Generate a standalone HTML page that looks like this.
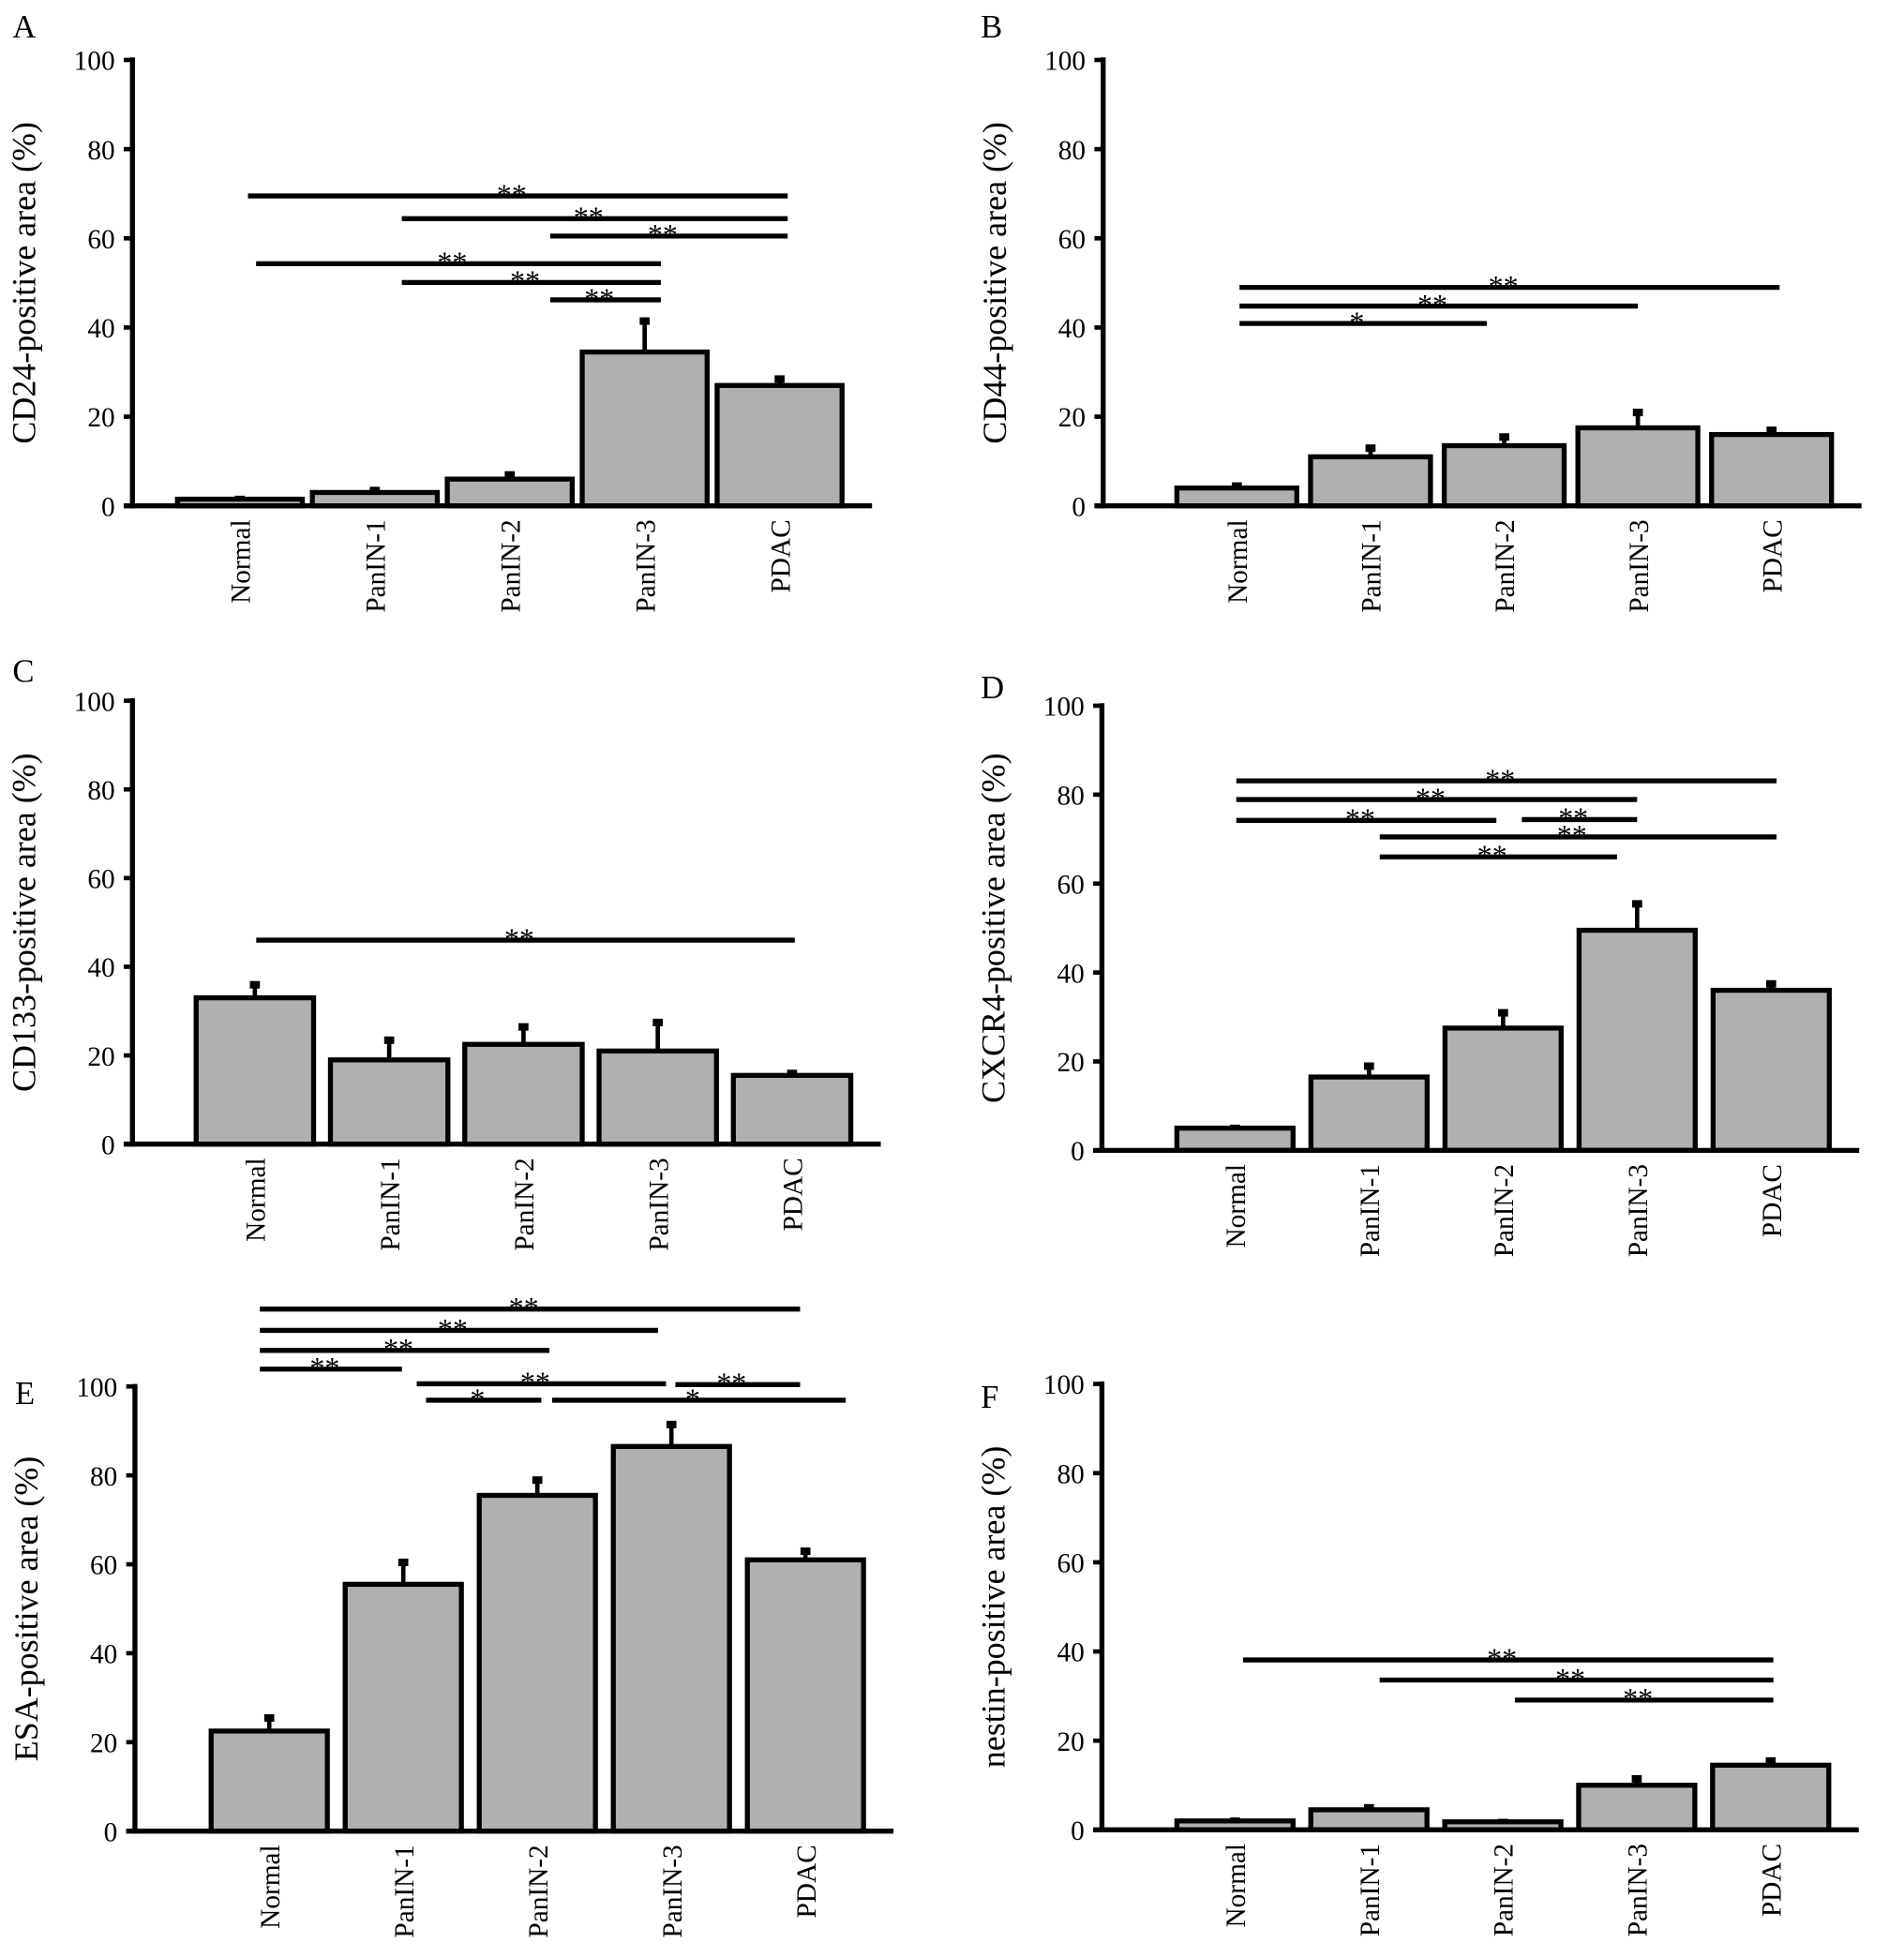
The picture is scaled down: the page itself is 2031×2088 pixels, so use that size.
<!DOCTYPE html>
<html><head><meta charset="utf-8"><style>
html,body{margin:0;padding:0;background:#fff}
svg{display:block}
text{font-family:"Liberation Serif",serif;fill:#000}
</style></head><body>
<svg id="fig" width="2031" height="2088" viewBox="0 0 1524 1566.8" xmlns="http://www.w3.org/2000/svg"></svg>
<script>
const categories = ["Normal","PanIN-1","PanIN-2","PanIN-3","PDAC"];
const yTicks = [0,20,40,60,80,100];
const valsA = [1.5,3,6,34.5,27];   const errA = [2,4,7.5,42,29];
const valsB = [4,11,13.5,17.5,16]; const errB = [5,13.5,16,21.5,17.5];
const valsC = [33,19,22.5,21,15.5];const errC = [36.5,24,27,28,16.5];
const valsD = [5,16.5,27.5,49.5,36];const errD = [5.5,19.5,31.5,56,38];
const valsE = [22.5,55.5,75.5,86.5,61];const errE = [26,61,79.5,92,63.5];
const valsF = [2,4.5,1.8,10,14.5]; const errF = [2.5,5.5,2.2,12,16];
// significance: [fromIdx, toIdx, value, label]
const sigA = [[0.06,4.06,69.5,"**"],[1.2,4.06,64.4,"**"],[2.3,4.06,60.5,"**"],[0.12,3.12,54.3,"**"],[1.2,3.12,50.1,"**"],[2.3,3.12,46.2,"**"]];
const sigB = [[0.02,4.06,49,"**"],[0.02,3.0,44.8,"**"],[0.02,1.87,40.9,"*"]];
const sigC = [[0.01,4.02,46,"**"]];
const sigD = [[0.01,4.04,83.1,"**"],[0.01,3.0,78.9,"**"],[0.01,1.95,74.2,"**"],[2.14,3.0,74.4,"**"],[1.08,4.04,70.5,"**"],[1.08,2.85,66,"**"]];
const sigE = [[-0.07,3.96,117.4,"**"],[-0.07,2.9,112.6,"**"],[-0.07,2.09,108.1,"**"],[-0.07,0.99,103.9,"**"],[1.1,2.96,100.6,"**"],[3.03,3.96,100.4,"**"],[1.17,2.03,96.9,"*"],[2.11,4.3,96.9,"*"]];
const sigF = [[0.06,4.02,38.1,"**"],[1.08,4.02,33.6,"**"],[2.09,4.02,29.1,"**"]];

const panels = [
 {id:"a",letter:"A",title:"CD24-positive area (%)",vals:valsA,errs:errA,sig:sigA,ax:106,top:48,zero:405,start:140,pitch:108,w:104,lx:10,ly:30},
 {id:"b",letter:"B",title:"CD44-positive area (%)",vals:valsB,errs:errB,sig:sigB,ax:883,top:48,zero:405,start:940,pitch:107,w:100,lx:785,ly:30},
 {id:"c",letter:"C",title:"CD133-positive area (%)",vals:valsC,errs:errC,sig:sigC,ax:106,top:561,zero:916,start:155,pitch:107.5,w:98,lx:10,ly:546},
 {id:"d",letter:"D",title:"CXCR4-positive area (%)",vals:valsD,errs:errD,sig:sigD,ax:882,top:565,zero:921,start:940,pitch:107.3,w:97,lx:785,ly:559},
 {id:"e",letter:"E",title:"ESA-positive area (%)",vals:valsE,errs:errE,sig:sigE,ax:108,top:1110,zero:1466,start:167,pitch:107.3,w:97,lx:12,ly:1124},
 {id:"f",letter:"F",title:"nestin-positive area (%)",vals:valsF,errs:errF,sig:sigF,ax:882,top:1108,zero:1465,start:940,pitch:107.2,w:97,lx:785,ly:1127}
];
const NS="http://www.w3.org/2000/svg";
const svg=document.getElementById("fig");
function mk(tag,attrs,parent){const e=document.createElementNS(NS,tag);for(const k in attrs)e.setAttribute(k,attrs[k]);parent.appendChild(e);return e;}
panels.forEach(p=>{
  const g=mk("g",{},svg);
  
  
  const y=v=>p.zero-(v/100)*(p.zero-p.top);
  const cx=f=>p.start+p.w/2+f*p.pitch;
  const L=mk("text",{x:p.lx,y:p.ly,"font-size":26},g);L.textContent=p.letter;
  
  
  const T=mk("text",{x:0,y:0,"font-size":27,"text-anchor":"middle",transform:`translate(${p.ax-78},${(p.top+p.zero)/2}) rotate(-90)`},g);T.textContent=p.title;
  
  
  const right=p.start+4*p.pitch+p.w+22;
  const ya=mk("line",{x1:p.ax,y1:p.top-2,x2:p.ax,y2:p.zero+2,stroke:"#000","stroke-width":4},g);
  
  
  yTicks.forEach(t=>{
    const tk=mk("line",{x1:p.ax-7,y1:y(t),x2:p.ax,y2:y(t),stroke:"#000","stroke-width":3.5},g);
    
    
    const tl=mk("text",{x:p.ax-14,y:y(t)+8,"font-size":22,"text-anchor":"end"},g);tl.textContent=t;
    
    
  });
  p.vals.forEach((v,i)=>{
    const x0=p.start+i*p.pitch, c=cx(i);
    const el=mk("line",{x1:c,y1:y(v),x2:c,y2:y(p.errs[i]),stroke:"#000","stroke-width":3.5},g);
    
    
    const cap=mk("rect",{x:c-4,y:y(p.errs[i])-1,width:8,height:6,fill:"#000"},g);
    
    
    const r=mk("rect",{x:x0+2,y:y(v),width:p.w-4,height:p.zero-y(v),fill:"#b0b0b0",stroke:"#000","stroke-width":4},g);
    
    
    const cl=mk("text",{x:0,y:0,"font-size":22,"text-anchor":"end",transform:`translate(${c+8},${p.zero+11}) rotate(-90)`},g);cl.textContent=categories[i];
    
    
  });
  const xa=mk("line",{x1:p.ax-7,y1:p.zero,x2:right,y2:p.zero,stroke:"#000","stroke-width":4},g);
  
  
  p.sig.forEach(s=>{
    const x1=cx(s[0]),x2=cx(s[1]),yy=y(s[2]);
    const sl=mk("line",{x1:x1,y1:yy,x2:x2,y2:yy,stroke:"#000","stroke-width":4},g);
    
    
    const st=mk("text",{x:(x1+x2)/2-5,y:yy+7,"font-size":24,"text-anchor":"middle"},g);st.textContent=s[3];
    
    
  });
});
</script>
</body></html>
